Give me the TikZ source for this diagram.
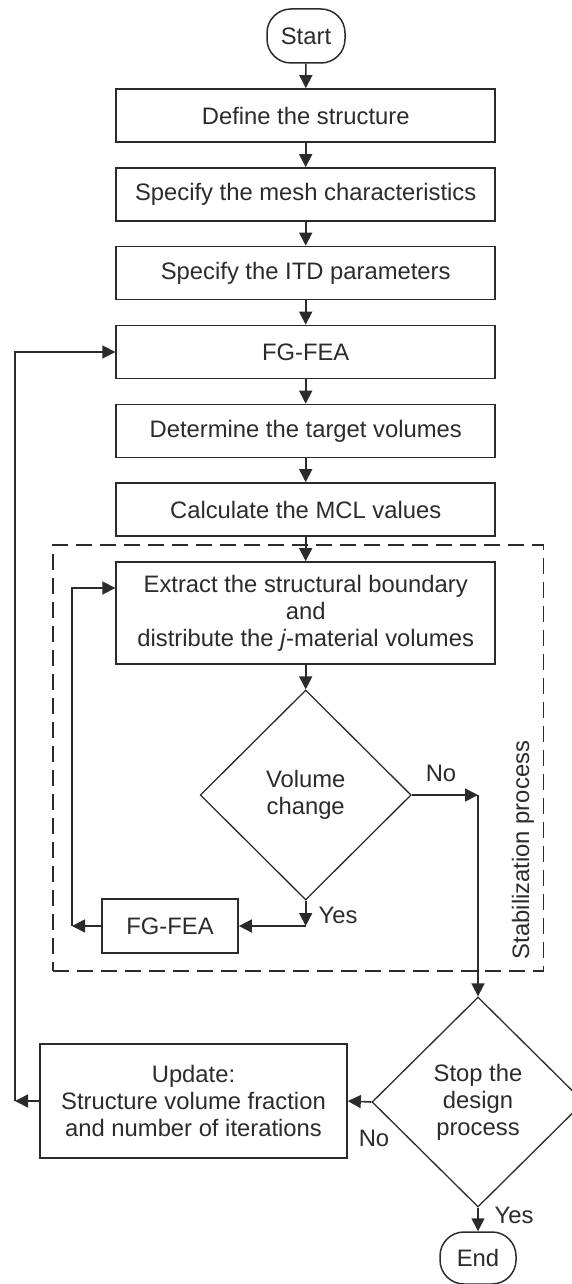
\documentclass[tikz,border=0pt]{standalone}
\usepackage{fontspec}
\setmainfont{Liberation Sans}
\usetikzlibrary{arrows.meta,shapes.geometric,calc}
\definecolor{ink}{HTML}{2B2B2B}
\begin{document}
\begin{tikzpicture}[x=1pt,y=-1pt,
  every node/.style={font=\fontsize{23.8pt}{27pt}\selectfont, text=ink},
  procbox/.style={draw=ink, line width=1.7pt, rectangle, inner sep=0pt, align=center, minimum width=379pt, minimum height=53pt},
  termbox/.style={draw=ink, line width=1.5pt, rectangle, rounded corners=24pt, inner sep=0pt, minimum width=78pt, minimum height=54pt},
  decbox/.style={draw=ink, line width=1.3pt, diamond, inner sep=0pt, align=center, minimum width=211pt, minimum height=210pt},
  flow/.style={draw=ink, line width=1.6pt},
  arr/.style={flow, -{Triangle[length=13pt,width=13pt]}},
  stabframe/.style={draw=ink, line width=1.2pt, dash pattern=on 16pt off 8pt, rectangle, inner sep=0pt},
  lbl/.style={inner sep=0pt}
]
\useasboundingbox (0,0) rectangle (572,1284);

% main column
\node[termbox] (start) at (306,36) {Start};
\node[procbox] (b1) at (305.7,115.5) {Define the structure};
\node[procbox] (b2) at (305.7,194.5) {Specify the mesh characteristics};
\node[procbox] (b3) at (305.7,273) {Specify the ITD parameters};
\node[procbox] (b4) at (305.7,352) {FG-FEA};
\node[procbox] (b5) at (305.7,431) {Determine the target volumes};
\node[procbox] (b6) at (305.7,509.5) {Calculate the MCL values};

% stabilization frame
\node[stabframe, minimum width=490.5pt, minimum height=426pt] (stab) at (298.25,758) {};
\node[lbl, rotate=90] (stablbl) at (523,850) {Stabilization process};

\node[procbox, minimum height=102pt] (extract) at (305.7,613)
  {Extract the structural boundary\\and\\distribute the \textit{j}-material volumes};
\node[decbox] (vc) at (305.7,795) {Volume\\change};
\node[procbox, minimum width=136pt, minimum height=54pt] (fg2) at (170,926) {FG-FEA};

\node[decbox, minimum width=212pt] (stop) at (478,1102) {Stop the\\design\\process};
\node[procbox, minimum width=307pt, minimum height=114pt] (update) at (193.5,1101)
  {Update:\\Structure volume fraction\\and number of iterations};
\node[termbox, minimum width=76pt, minimum height=52pt] (end) at (478,1258) {End};

% labels
\node[lbl] (no1) at (441,773) {No};
\node[lbl] (yes1) at (338,915) {Yes};
\node[lbl] (no2) at (374,1138) {No};
\node[lbl] (yes2) at (514,1215) {Yes};

% helper coordinates
\coordinate (noA) at (stop.north |- vc.east);
\coordinate (yesA) at (vc.south |- fg2.east);
\coordinate (loopA) at (72,926);
\coordinate (loopB) at (72,588);
\coordinate (fbA) at (15,1101);
\coordinate (fbB) at (15,352);

% main flow
\draw[arr] (start) -- (b1);
\draw[arr] (b1) -- (b2);
\draw[arr] (b2) -- (b3);
\draw[arr] (b3) -- (b4);
\draw[arr] (b4) -- (b5);
\draw[arr] (b5) -- (b6);
\draw[arr] (b6) -- (extract);
\draw[arr] (extract) -- (vc.north);

% volume change branches
\draw[arr] (vc.east) -- (noA);
\draw[arr] (noA) -- (stop.north);
\draw[arr] (vc.south) -- (yesA);
\draw[arr] (yesA) -- (fg2.east);
\draw[arr] (fg2.west) -- (loopA);
\draw[arr] (loopA) -- (loopB) -- (loopB -| extract.west);

% stop branches
\draw[arr] (stop.south) -- (end.north);
\draw[arr] (stop.west) -- (update.east);
\draw[arr] (update.west) -- (fbA);
\draw[arr] (fbA) -- (fbB) -- (b4.west);
\end{tikzpicture}
\end{document}
